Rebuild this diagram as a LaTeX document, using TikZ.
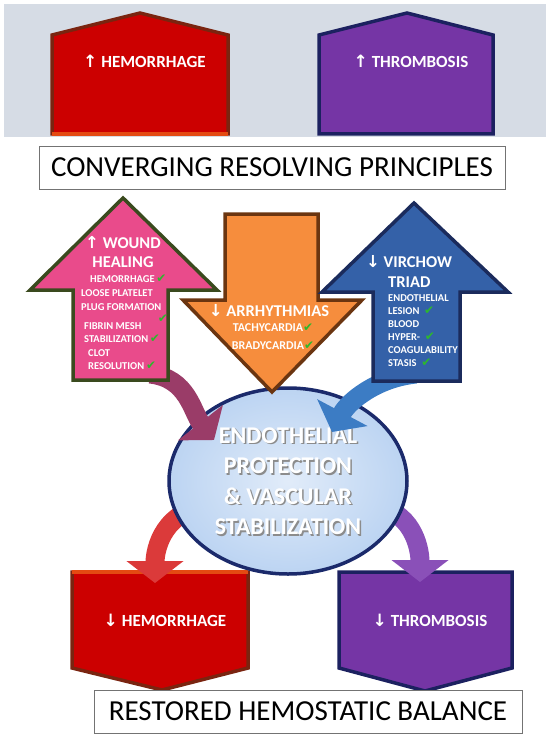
\documentclass[tikz,border=0pt]{standalone}
\usepackage{fontspec}
\setmainfont{Carlito}
\newfontfamily\symfont{DejaVu Sans}
\usetikzlibrary{shapes.geometric,arrows.meta,calc}

\definecolor{bandgray}{HTML}{D6DCE5}
\definecolor{hemred}{HTML}{CC0000}
\definecolor{hemedge}{HTML}{7A2410}
\definecolor{hembevel}{HTML}{E44A12}
\definecolor{thrpurple}{HTML}{7535A5}
\definecolor{thredge}{HTML}{1C2160}
\definecolor{woundpink}{HTML}{E94B8B}
\definecolor{woundedge}{HTML}{3A4A1E}
\definecolor{arrorange}{HTML}{F68D3D}
\definecolor{arredge}{HTML}{6B3510}
\definecolor{virblue}{HTML}{3461A8}
\definecolor{viredge}{HTML}{1B2B5C}
\definecolor{corefill}{HTML}{BCD4F2}
\definecolor{coreedge}{HTML}{1B2A6B}
\definecolor{tickgreen}{HTML}{2DB82D}
\definecolor{maroonarr}{HTML}{9A3C68}
\definecolor{bluearr}{HTML}{3C7CC4}
\definecolor{redarr}{HTML}{DB3A3A}
\definecolor{purplearr}{HTML}{8A50B8}

\newcommand{\uparr}{{\symfont\char"2191}}
\newcommand{\dnarr}{{\symfont\char"2193}}
\newcommand{\okmark}{{\symfont\fontsize{12}{12}\selectfont\color{tickgreen}\char"2714}}

\tikzset{
  blocktxt/.style={text=white,font=\bfseries\fontsize{17}{19}\selectfont,inner sep=0pt},
  headtxt/.style={text=white,font=\bfseries\fontsize{16.5}{18}\selectfont,inner sep=0pt},
  itemtxt/.style={text=white,font=\bfseries\fontsize{10.5}{12}\selectfont,anchor=west,inner sep=0pt},
  midtxt/.style={text=white,font=\bfseries\fontsize{12}{14}\selectfont,inner sep=0pt},
  coretxt/.style={text=white,font=\bfseries\fontsize{24}{30.5}\selectfont,align=center,inner sep=0pt},
  titlebox/.style={draw=black!55,line width=0.8pt,fill=white,font=\fontsize{29}{32}\selectfont,inner sep=0pt},
  bendarrow/.style={line width=19pt,-{Triangle[length=22pt,width=56pt]}},
  blockshape/.style={line width=3.5pt,line join=miter},
}

\begin{document}
\begin{tikzpicture}[x=1pt,y=-1pt]
    \useasboundingbox (0,0) rectangle (550,738);
    \fill[bandgray] (4,4) rectangle (546,137);
    \filldraw[blockshape,fill=hemred,draw=hemedge] (52,134)--(52,35)--(140,13)--(228,35)--(228,134)--cycle;
    \draw[hembevel,line width=3.5pt] (52,134)--(228,134);
    \filldraw[blockshape,fill=thrpurple,draw=thredge] (319,134)--(319,35)--(407,13)--(493,35)--(493,134)--cycle;
    \node[blocktxt] (hemup) at (144.5,61) {\uparr\ HEMORRHAGE};
    \node[blocktxt] (thrup) at (411,61) {\uparr\ THROMBOSIS};
    \node[titlebox,minimum width=466pt,minimum height=43pt] (principles) at (272,167.5) {CONVERGING RESOLVING PRINCIPLES};

    \filldraw[blockshape,fill=hemred,draw=hemedge] (72,572)--(248,572)--(248,668)--(162,690)--(72,668)--cycle;
    \draw[hembevel,line width=3.5pt] (72,572)--(248,572);
    \filldraw[blockshape,fill=thrpurple,draw=thredge] (339,572)--(512,572)--(512,668)--(425,691)--(339,668)--cycle;
    \node[blocktxt] (hemdown) at (165,620) {\dnarr\ HEMORRHAGE};
    \node[blocktxt] (thrdown) at (430,620) {\dnarr\ THROMBOSIS};
    \node[titlebox,minimum width=428pt,minimum height=43pt] (balance) at (308,711.5) {RESTORED HEMOSTATIC BALANCE};

    \coordinate (coreleft) at (212,506);
    \coordinate (coreright) at (370,506);
    \coordinate (hemtip) at (155,583);
    \coordinate (thrtip) at (420,582);
    \draw[bendarrow,draw=redarr] (coreleft) .. controls +(-48,2) and +(0,-34) .. (hemtip);
    \draw[bendarrow,draw=purplearr] (coreright) .. controls +(42,2) and +(0,-34) .. (thrtip);

    \node[ellipse,draw=coreedge,line width=3.5pt,inner color=corefill!45!white,outer color=corefill,minimum width=238pt,minimum height=186pt] (core) at (288,481) {};
    \node[coretxt,text=black!45] (coreshadow) at ($(core)+(1.5,1.5)$) {ENDOTHELIAL\\ PROTECTION\\ \& VASCULAR\\ STABILIZATION};
    \node[coretxt] (corelabel) at (core) {ENDOTHELIAL\\ PROTECTION\\ \& VASCULAR\\ STABILIZATION};

    \coordinate (woundfoot) at (150,374);
    \coordinate (woundtip) at (214,440);
    \coordinate (virfoot) at (416,374);
    \coordinate (virtip) at (332,432);
    \draw[bendarrow,draw=maroonarr] (woundfoot) .. controls +(38,4) and +(-22,-28) .. (woundtip);
    \draw[bendarrow,draw=bluearr] (virfoot) .. controls +(-40,4) and +(16,-30) .. (virtip);

    \filldraw[blockshape,fill=woundpink,draw=woundedge] (123,198)--(217,290)--(168,290)--(168,380)--(73,380)--(73,290)--(30,290)--cycle;
    \filldraw[blockshape,fill=arrorange,draw=arredge] (225,214)--(318,214)--(318,300)--(362,300)--(272,392)--(183,300)--(225,300)--cycle;
    \filldraw[blockshape,fill=virblue,draw=viredge] (414,203)--(508,292)--(460,292)--(460,381)--(373,381)--(373,292)--(322,292)--cycle;

    \node[headtxt] (woundhead) at (123,243) {\uparr\ WOUND};
    \node[headtxt] (woundtail) at (123,262) {HEALING};
    \node[itemtxt] (wound1) at (90,279) {HEMORRHAGE\,\okmark};
    \node[itemtxt] (wound2) at (81,293) {LOOSE PLATELET};
    \node[itemtxt] (wound3) at (81,307) {PLUG FORMATION};
    \node[inner sep=0pt] (wound3ok) at (163,319) {\okmark};
    \node[itemtxt] (wound4) at (84,326) {FIBRIN MESH};
    \node[itemtxt] (wound5) at (84,339) {STABILIZATION\,\okmark};
    \node[itemtxt] (wound6) at (88,353) {CLOT};
    \node[itemtxt] (wound7) at (88,366) {RESOLUTION\,\okmark};

    \node[headtxt] (arrhead) at (269,311) {\dnarr\ ARRHYTHMIAS};
    \node[midtxt] (arr1) at (273,328) {TACHYCARDIA\okmark};
    \node[midtxt] (arr2) at (273,346) {BRADYCARDIA\okmark};

    \node[headtxt] (virhead) at (409,262) {\dnarr\ VIRCHOW};
    \node[headtxt,anchor=west] (virtail) at (388,282) {TRIAD};
    \node[itemtxt] (vir1) at (388,298) {ENDOTHELIAL};
    \node[itemtxt] (vir2) at (388,311) {LESION\ \ \okmark};
    \node[itemtxt] (vir3) at (388,324) {BLOOD};
    \node[itemtxt] (vir4) at (388,337) {HYPER-\ \ \okmark};
    \node[itemtxt] (vir5) at (388,350) {COAGULABILITY};
    \node[itemtxt] (vir6) at (388,363) {STASIS\ \ \okmark};
\end{tikzpicture}
\end{document}
